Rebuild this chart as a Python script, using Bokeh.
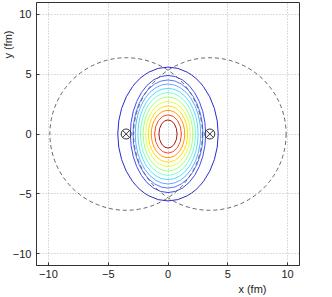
from bokeh.plotting import figure
from bokeh.models import Range1d, FixedTicker, Title
from bokeh.embed import file_html
from bokeh.resources import INLINE

# ---- data ----
ticks = [-10, -5, 0, 5, 10]
tick_labels = ["\u221210", "\u22125", "0", "5", "10"]

nucleus_x = [-3.5, 3.5]
nucleus_y = [0.0, 0.0]
nucleus_radius = 6.38

# contour levels (outer -> inner): semi-axes in fm
contour_a = [4.2, 3.15, 2.93, 2.74, 2.52, 2.30, 2.08, 1.86, 1.64, 1.40, 1.12, 0.76]
contour_b = [5.6, 4.90, 4.52, 4.18, 3.82, 3.46, 3.10, 2.72, 2.35, 1.98, 1.60, 1.18]
contour_colors = ["#2a2ad0", "#3b4cf0", "#5577ff", "#66aaff", "#55ddff", "#77ffcc",
                  "#aaff77", "#ddff44", "#ffdd00", "#ff9900", "#ff4422", "#a51515"]

FONT = "Liberation Sans"

p = figure(width=324, height=296, output_backend="svg", toolbar_location=None,
           x_range=Range1d(-11, 11), y_range=Range1d(-11, 11),
           min_border_left=36, min_border_right=25, min_border_top=2, min_border_bottom=31)
p.background_fill_color = "white"
p.border_fill_color = "white"
p.outline_line_color = "#333333"
p.outline_line_width = 1

for ax in (p.xaxis, p.yaxis):
    ax.ticker = FixedTicker(ticks=ticks)
    ax.major_label_overrides = {t: l for t, l in zip(ticks, tick_labels)}
    ax.major_tick_in = 3
    ax.major_tick_out = 0
    ax.minor_tick_line_color = None
    ax.axis_line_color = "#333333"
    ax.major_tick_line_color = "#333333"
    ax.major_label_text_font = FONT
    ax.major_label_text_font_size = "11px"
    ax.major_label_text_color = "#222222"
p.xaxis.major_label_standoff = 4
p.yaxis.major_label_standoff = 5

p.grid.ticker = FixedTicker(ticks=ticks)
p.grid.grid_line_color = "#b8b8b8"
p.grid.grid_line_dash = "1 2"
p.grid.grid_line_width = 1

# contours
p.ellipse(x=[0.0] * len(contour_a), y=[0.0] * len(contour_a),
          width=[2 * a for a in contour_a], height=[2 * b for b in contour_b],
          fill_color=None, line_color=contour_colors, line_width=1)

# nuclei outlines
p.circle(x=nucleus_x, y=nucleus_y, radius=nucleus_radius, fill_color=None,
         line_color="#555555", line_dash="4 3", line_width=0.9)

# nucleus centres
p.scatter(x=nucleus_x, y=nucleus_y, marker="circle_x", size=10, fill_color=None,
          line_color="#333333", line_width=1)

xlab = Title(text="x (fm)", align="right", offset=33, standoff=0,
             text_font=FONT, text_font_size="11px", text_font_style="normal",
             text_color="#222222")
ylab = Title(text="y (fm)", align="right", offset=28, standoff=-8,
             text_font=FONT, text_font_size="11px", text_font_style="normal",
             text_color="#222222")
p.add_layout(xlab, "below")
p.add_layout(ylab, "left")

open("out.html", "w").write(file_html(p, INLINE))
